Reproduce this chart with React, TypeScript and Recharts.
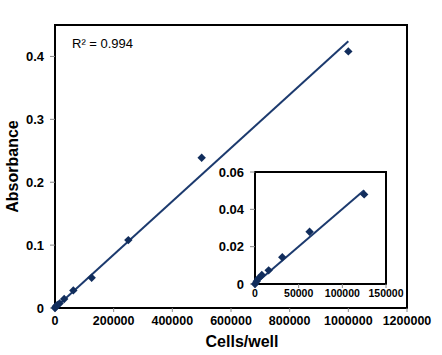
import React from "react";
import {
  ScatterChart,
  Scatter,
  XAxis,
  YAxis,
  ReferenceArea,
} from "recharts";

// standard curve: cells per well vs absorbance
const CELLS = [0, 1953, 3906, 7812, 15625, 31250, 62500, 125000, 250000, 500000, 1000000];
const ABSORBANCE = [0, 0.0015, 0.003, 0.0048, 0.0073, 0.0143, 0.028, 0.048, 0.108, 0.239, 0.408];

// linear fit end points
const FIT_CELLS = [0, 1000000];
const FIT_ABS = [0, 0.424];
const INSET_FIT_CELLS = [0, 125000];
const INSET_FIT_ABS = [0, 0.0502];

const X_TICKS = [0, 200000, 400000, 600000, 800000, 1000000, 1200000];
const Y_TICKS = [0, 0.1, 0.2, 0.3, 0.4];
const INSET_X_TICKS = [0, 50000, 100000, 150000];
const INSET_Y_TICKS = [0, 0.02, 0.04, 0.06];
const INSET_COUNT = 8; // points up to 125000 cells

const FONT = "'Liberation Sans', Arial, sans-serif";
const MARKER = "#112d5c";
const LINE = "#1c3a6e";

const points = CELLS.map((x, i) => ({ x, y: ABSORBANCE[i] }));
const insetPoints = points.slice(0, INSET_COUNT);
const fit = FIT_CELLS.map((x, i) => ({ x, y: FIT_ABS[i] }));
const insetFit = INSET_FIT_CELLS.map((x, i) => ({ x, y: INSET_FIT_ABS[i] }));

const Diamond = (props: any) => {
  const { cx, cy } = props;
  if (cx == null || cy == null) return <g />;
  const r = 4.2;
  return (
    <polygon
      points={`${cx},${cy - r} ${cx + r},${cy} ${cx},${cy + r} ${cx - r},${cy}`}
      fill={MARKER}
    />
  );
};

const NoDot = () => <g />;

const fmt = (v: number) => (v === 0 ? "0" : String(v));
const fmt2 = (v: number) => (v === 0 ? "0" : v.toFixed(2));

export default function App() {
  return (
    <div
      style={{
        position: "absolute",
        left: 0,
        top: 0,
        width: 442,
        height: 355,
        background: "#fff",
        fontFamily: FONT,
      }}
    >
      <ScatterChart
        width={442}
        height={355}
        margin={{ top: 25, right: 35, bottom: 0, left: 0 }}
      >
        <XAxis
          type="number"
          dataKey="x"
          domain={[0, 1200000]}
          ticks={X_TICKS}
          tickFormatter={fmt}
          height={47}
          tickSize={4}
          tickMargin={4}
          axisLine={{ stroke: "#000", strokeWidth: 2 }}
          tickLine={{ stroke: "#888" }}
          tick={{ fill: "#000", fontSize: 12.5, fontWeight: "bold", fontFamily: FONT }}
          interval={0}
          label={{
            value: "Cells/well",
            position: "insideBottom",
            offset: 8,
            dx: 11,
            style: { fill: "#000", fontSize: 16, fontWeight: "bold", fontFamily: FONT },
          }}
        />
        <YAxis
          type="number"
          dataKey="y"
          domain={[0, 0.45]}
          ticks={Y_TICKS}
          tickFormatter={fmt}
          width={55}
          tickSize={5}
          tickMargin={6}
          axisLine={{ stroke: "#000", strokeWidth: 2 }}
          tickLine={{ stroke: "#888" }}
          tick={{ fill: "#000", fontSize: 13, fontWeight: "bold", fontFamily: FONT }}
          interval={0}
          label={{
            value: "Absorbance",
            angle: -90,
            position: "insideLeft",
            offset: 12,
            style: {
              fill: "#000",
              fontSize: 16,
              fontWeight: "bold",
              fontFamily: FONT,
              textAnchor: "middle",
            },
          }}
        />
        <ReferenceArea
          x1={0}
          x2={1200000}
          y1={0}
          y2={0.45}
          fill="none"
          stroke="#000"
          strokeWidth={2}
          fillOpacity={0}
        />
        <Scatter
          data={fit}
          line={{ stroke: LINE, strokeWidth: 2 }}
          shape={NoDot}
          isAnimationActive={false}
        />
        <Scatter data={points} shape={Diamond} isAnimationActive={false} />
      </ScatterChart>

      <div
        style={{
          position: "absolute",
          left: 72,
          top: 36,
          fontSize: 13,
          lineHeight: "16px",
          color: "#000",
        }}
      >
        R² = 0.994
      </div>

      <div style={{ position: "absolute", left: 205, top: 160 }}>
        <ScatterChart
          width={215}
          height={150}
          margin={{ top: 12, right: 34, bottom: 0, left: 0 }}
        >
          <XAxis
            type="number"
            dataKey="x"
            domain={[0, 150000]}
            ticks={INSET_X_TICKS}
            tickFormatter={fmt}
            height={26}
            tickSize={4}
            tickMargin={2}
            axisLine={{ stroke: "#000", strokeWidth: 2 }}
            tickLine={{ stroke: "#888" }}
            tick={{ fill: "#000", fontSize: 10.5, fontWeight: "bold", fontFamily: FONT }}
            interval={0}
          />
          <YAxis
            type="number"
            dataKey="y"
            domain={[0, 0.06]}
            ticks={INSET_Y_TICKS}
            tickFormatter={fmt2}
            width={50}
            tickSize={5}
            tickMargin={6}
            axisLine={{ stroke: "#000", strokeWidth: 2 }}
            tickLine={{ stroke: "#888" }}
            tick={{ fill: "#000", fontSize: 13, fontWeight: "bold", fontFamily: FONT }}
            interval={0}
          />
          <ReferenceArea
            x1={0}
            x2={150000}
            y1={0}
            y2={0.06}
            fill="none"
            stroke="#000"
            strokeWidth={2}
            fillOpacity={0}
          />
          <Scatter
            data={insetFit}
            line={{ stroke: LINE, strokeWidth: 2 }}
            shape={NoDot}
            isAnimationActive={false}
          />
          <Scatter data={insetPoints} shape={Diamond} isAnimationActive={false} />
        </ScatterChart>
      </div>
    </div>
  );
}
